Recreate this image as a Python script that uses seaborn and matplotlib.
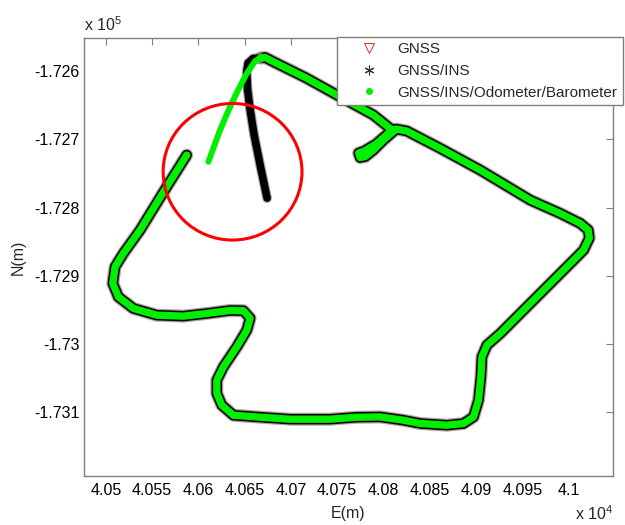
import numpy as np
import pandas as pd
import matplotlib
matplotlib.use("Agg")
import matplotlib.pyplot as plt
from matplotlib.lines import Line2D
from matplotlib.patches import Ellipse
import seaborn as sns

# ---- data (metres) ----
# Trajectory with GNSS available (GNSS, GNSS/INS and the fused solution coincide)
main_E = [40587.5, 40565.9, 40537.1, 40519.0, 40510.1, 40507.6, 40513.6, 40529.8,
          40555.1, 40583.9, 40609.2, 40634.3, 40648.7, 40656.0, 40652.4, 40641.6,
          40627.1, 40620.0, 40620.0, 40625.4, 40637.9, 40663.2, 40699.2, 40742.4,
          40771.3, 40796.5, 40821.6, 40839.7, 40868.6, 40886.5, 40897.3, 40902.7,
          40905.3, 40906.4, 40911.8, 40926.2, 40947.8, 40983.8, 41005.4, 41016.2,
          41022.4, 41021.3, 41012.6, 40991.0, 40958.6, 40904.5, 40861.3, 40825.3,
          40813.8, 40800.0, 40789.2, 40780.3, 40774.8, 40773.2, 40779.2, 40792.1,
          40809.4, 40789.2, 40753.2, 40717.2, 40681.1, 40672.2, 40666.8]
main_N = [-172723.1, -172769.5, -172832.9, -172867.1, -172886.7, -172911.0, -172930.7, -172947.6,
          -172957.5, -172958.9, -172955.0, -172950.6, -172950.9, -172961.9, -172979.4, -173003.9,
          -173033.2, -173052.7, -173072.2, -173089.3, -173104.0, -173106.5, -173109.8, -173109.8,
          -173106.9, -173106.5, -173111.3, -173116.1, -173118.6, -173116.1, -173106.5, -173082.0,
          -173047.8, -173018.6, -173001.4, -172984.3, -172955.0, -172906.2, -172876.9, -172862.2,
          -172844.7, -172832.9, -172823.1, -172808.5, -172789.0, -172745.0, -172713.2, -172687.9,
          -172685.0, -172701.1, -172715.7, -172725.3, -172726.7, -172720.1, -172717.2, -172706.9,
          -172686.4, -172664.5, -172637.7, -172610.7, -172586.4, -172580.2, -172581.0]

# GNSS outage: fused solution (GNSS/INS/Odometer/Barometer)
fused_out_E = [40666.8, 40661.4, 40652.4, 40643.0, 40634.3, 40623.5, 40610.9]
fused_out_N = [-172581.0, -172585.4, -172603.4, -172627.8, -172652.3, -172686.4, -172732.9]

# GNSS outage: GNSS/INS drift
ins_out_E = [40666.8, 40659.2, 40653.8, 40652.2, 40653.3, 40656.0, 40660.3, 40666.8, 40674.3]
ins_out_N = [-172581.0, -172581.7, -172588.3, -172601.5, -172627.8, -172657.1, -172693.8,
             -172737.7, -172786.1]

# highlighted region (red circle)
circle_center = (40637.0, -172747.5)
circle_w, circle_h = 150.0, 200.0

x_ticks = [40500, 40550, 40600, 40650, 40700, 40750, 40800, 40850, 40900, 40950, 41000]
x_tick_labels = ["4.05", "4.055", "4.06", "4.065", "4.07", "4.075", "4.08", "4.085",
                 "4.09", "4.095", "4.1"]
y_ticks = [-172600, -172700, -172800, -172900, -173000, -173100]
y_tick_labels = ["-1.726", "-1.727", "-1.728", "-1.729", "-1.73", "-1.731"]

labels = ["GNSS", "GNSS/INS", "GNSS/INS/Odometer/Barometer"]

# ---- style ----
sns.set_style("white")
plt.rcParams["font.family"] = ["Liberation Sans", "DejaVu Sans"]
plt.rcParams["mathtext.default"] = "regular"

fig = plt.figure(figsize=(6.25, 5.25), dpi=100)
ax = fig.add_axes([0.1344, 0.0933, 0.8464, 0.8343])

main_df = pd.DataFrame({"E": main_E, "N": main_N})
fused_df = pd.DataFrame({"E": fused_out_E, "N": fused_out_N})
ins_df = pd.DataFrame({"E": ins_out_E, "N": ins_out_N})

kw = dict(x="E", y="N", sort=False, estimator=None, ax=ax, legend=False)
# GNSS (red) halo + GNSS/INS (black stars) band
sns.lineplot(data=main_df, color="#ff5050", linewidth=9.6, alpha=0.3, **kw)
sns.lineplot(data=main_df, color="#a0a0a0", linewidth=9.0, **kw)
sns.lineplot(data=main_df, color="black", linewidth=7.5, **kw)
sns.lineplot(data=ins_df, color="#a0a0a0", linewidth=7.0, **kw)
sns.lineplot(data=ins_df, color="black", linewidth=5.4, **kw)
sns.scatterplot(data=main_df, x="E", y="N", marker="v", s=14, facecolors="none",
                edgecolor="red", linewidth=0.6, ax=ax, legend=False, zorder=1)
# fused solution (green)
sns.lineplot(data=main_df, color="#00ee00", linewidth=5.3, **kw)
sns.lineplot(data=fused_df, color="#00ee00", linewidth=4.3, **kw)

for ln in ax.lines:
    ln.set_solid_joinstyle("round")
    ln.set_solid_capstyle("round")

ax.add_patch(Ellipse(circle_center, circle_w, circle_h, fill=False,
                     edgecolor="red", linewidth=2.2, zorder=5))

ax.set_xlim(40476.5, 41048.0)
ax.set_ylim(-173193.0, -172551.7)
ax.set_xticks(x_ticks)
ax.set_xticklabels(x_tick_labels)
ax.set_yticks(y_ticks)
ax.set_yticklabels(y_tick_labels)
ax.tick_params(direction="in", length=5, width=0.8, color="#808080", labelsize=11.5,
               top=True, right=True, labelcolor="black")
ax.tick_params(axis="x", pad=5)
ax.tick_params(axis="y", pad=3)
for sp in ax.spines.values():
    sp.set_color("#808080")
    sp.set_linewidth(1.0)
    sp.set_visible(True)

ax.set_xlabel("E(m)", fontsize=11.5, labelpad=6)
ax.set_ylabel("N(m)", fontsize=11.5, labelpad=6)

ax.text(0.0, 1.01, "x 10$^{5}$", transform=ax.transAxes, ha="left", va="bottom", fontsize=11.5)
ax.text(1.0, -0.065, "x 10$^{4}$", transform=ax.transAxes, ha="right", va="top", fontsize=11.5)

handles = [
    Line2D([], [], linestyle="none", marker="v", markersize=7, markerfacecolor="none",
           markeredgecolor="red", markeredgewidth=0.6),
    Line2D([], [], linestyle="none", marker=(6, 2, 0), markersize=7,
           markeredgecolor="#333333", markeredgewidth=0.8),
    Line2D([], [], linestyle="none", marker=".", markersize=8, color="#00ee00"),
]
leg = ax.legend(handles, labels, loc="upper right", bbox_to_anchor=(1.019, 1.002),
                borderaxespad=0, fontsize=11, frameon=True, fancybox=False, framealpha=1,
                handlelength=3.4, handletextpad=0.2, borderpad=0.35, labelspacing=0.5)
leg.get_frame().set_edgecolor("#808080")
leg.get_frame().set_linewidth(1.0)
leg.set_zorder(10)

fig.savefig("out.png", dpi=100)
